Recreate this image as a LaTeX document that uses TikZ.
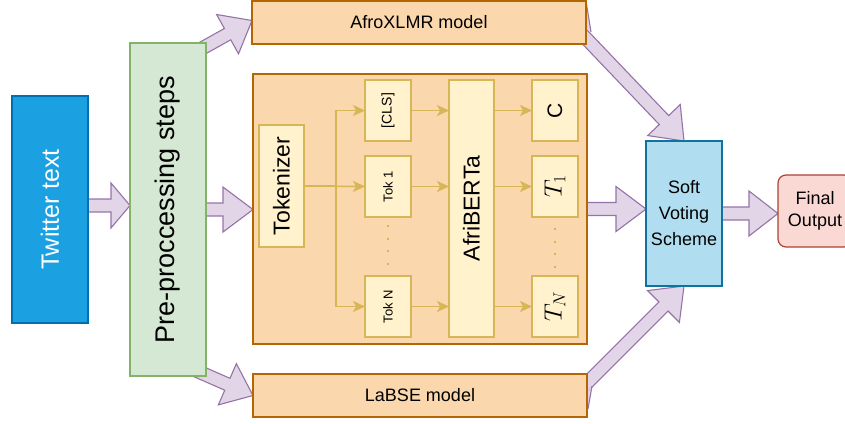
\documentclass[tikz,border=0pt]{standalone}
\usepackage{fontspec}
\setmainfont{Liberation Sans}
\usepackage{graphicx}
\usetikzlibrary{calc,arrows.meta,backgrounds}
\definecolor{twfill}{HTML}{1BA1E2}
\definecolor{twline}{HTML}{006EAF}
\definecolor{prefill}{HTML}{D5E8D4}
\definecolor{preline}{HTML}{82B366}
\definecolor{ofill}{HTML}{FAD7AC}
\definecolor{oline}{HTML}{B46504}
\definecolor{yfill}{HTML}{FFF2CC}
\definecolor{yline}{HTML}{D6B656}
\definecolor{softfill}{HTML}{B1DDF0}
\definecolor{softline}{HTML}{10739E}
\definecolor{finfill}{HTML}{FAD9D5}
\definecolor{finline}{HTML}{AE4132}
\definecolor{afill}{HTML}{E1D5E7}
\definecolor{aline}{HTML}{9673A6}
\newcommand\fs[2]{\fontsize{#1}{#2}\selectfont}
\newcommand\fatarrow[3]{%
  \coordinate (fa-s) at #1;
  \coordinate (fa-e) at #2;
  \coordinate (fa-b) at ($(fa-e)!#3!(fa-s)$);
  \draw[bigarrow] ($(fa-s)!6.5pt!90:(fa-e)$) -- ($(fa-b)!6.5pt!90:(fa-e)$)
    -- ($(fa-b)!22.5pt!90:(fa-e)$) -- (fa-e) -- ($(fa-b)!22.5pt!-90:(fa-e)$)
    -- ($(fa-b)!6.5pt!-90:(fa-e)$) -- ($(fa-s)!6.5pt!-90:(fa-e)$) -- cycle;}
\tikzset{
  box/.style={draw, line width=1.2pt, inner sep=0pt, outer sep=0pt, align=center},
  obox/.style={box, fill=ofill, draw=oline, line width=1.5pt, minimum width=334pt},
  ybox/.style={box, fill=yfill, draw=yline},
  bigarrow/.style={fill=afill, draw=aline, line width=1.1pt, line join=miter},
  thinarrow/.style={draw=yline, line width=1.4pt, -{Stealth[length=12pt,width=11pt,inset=3pt]}},
  dotline/.style={draw=yline, line width=2.2pt, dash pattern=on 2pt off 10.5pt}
}
\begin{document}
\begin{tikzpicture}[x=1pt,y=-1pt]
\useasboundingbox (0,0) rectangle (845,423);
% main boxes
\node[box, fill=twfill, draw=twline, minimum width=76pt, minimum height=227pt, text=white, font=\fs{25}{25}] (tw) at (50,209.5) {\rotatebox{90}{Twitter text}};
\node[box, fill=prefill, draw=preline, minimum width=76pt, minimum height=333pt, font=\fs{27}{27}] (pre) at (168,209.5) {\rotatebox{90}{Pre-proccessing steps}};
\node[obox, minimum height=43pt, font=\fs{18}{18}] (afro) at (419,22.5) {AfroXLMR model};
\node[obox, minimum height=270pt] (big) at (420,209) {};
\node[obox, minimum height=43pt, font=\fs{18}{18}] (labse) at (420,395.5) {LaBSE model};
% inner boxes
\node[ybox, minimum width=45pt, minimum height=122pt, font=\fs{23}{23}] (tokz) at (281.5,186) {\rotatebox{90}{Tokenizer}};
\node[ybox, minimum width=46pt, minimum height=61pt, font=\fs{14}{14}] (cls) at (388,110.5) {\rotatebox{90}{[CLS]}};
\node[ybox, minimum width=46pt, minimum height=61pt, font=\fs{13}{13}] (tok1) at (388,186.5) {\rotatebox{90}{Tok 1}};
\node[ybox, minimum width=46pt, minimum height=61pt, font=\fs{13}{13}] (tokn) at (388,306.5) {\rotatebox{90}{Tok N}};
\node[ybox, minimum width=45pt, minimum height=257pt, font=\fs{23}{23}] (afri) at (471.5,208.5) {\rotatebox{90}{AfriBERTa}};
\node[ybox, minimum width=46pt, minimum height=61pt, font=\fs{21}{21}] (cc) at (555,110.5) {\rotatebox{90}{C}};
\node[ybox, minimum width=46pt, minimum height=61pt, font=\fs{24}{24}] (t1) at (555,186.5) {\rotatebox{90}{$T_1$}};
\node[ybox, minimum width=46pt, minimum height=61pt, font=\fs{24}{24}] (tn) at (555,306.5) {\rotatebox{90}{$T_N$}};
% right boxes
\node[box, fill=softfill, draw=softline, minimum width=76pt, minimum height=145pt, font=\fs{18}{26}] (soft) at (684,213.5) {Soft\\Voting\\Scheme};
\node[box, fill=finfill, draw=finline, rounded corners=8pt, minimum width=74pt, minimum height=72pt, font=\fs{18}{22}] (final) at (815,211) {Final\\Output};
% thin connectors
\draw[thinarrow] (tokz.east) -- (tok1.west);
\draw[thinarrow] (tokz.east) -- ++(32,0) |- (cls.west);
\draw[thinarrow] (tokz.east) -- ++(32,0) |- (tokn.west);
\draw[thinarrow] (cls.east) -- (afri.west |- cls.east);
\draw[thinarrow] (tok1.east) -- (afri.west |- tok1.east);
\draw[thinarrow] (tokn.east) -- (afri.west |- tokn.east);
\draw[thinarrow] (afri.east |- cc.west) -- (cc.west);
\draw[thinarrow] (afri.east |- t1.west) -- (t1.west);
\draw[thinarrow] (afri.east |- tn.west) -- (tn.west);
\draw[dotline] ($(tok1.south)+(0,8)$) -- ($(tokn.north)+(0,-11)$);
\draw[dotline] ($(t1.south)+(0,11)$) -- ($(tn.north)+(0,-7)$);
% big arrows
\begin{scope}[on background layer]
\fatarrow{($(tw.east)+(0,-4)$)}{($(pre.west)+(0,-4)$)}{19pt}
\fatarrow{(pre.east)}{(big.west |- pre.east)}{30pt}
\fatarrow{(big.east)}{(soft.west |- big.east)}{30pt}
\fatarrow{(soft.east)}{(final.west |- soft.east)}{29pt}
\fatarrow{($(pre.north east)+(-14,11)$)}{($(afro.west)+(0,-2)$)}{28pt}
\fatarrow{($(pre.south east)+(-18,-9)$)}{(labse.west)}{28pt}
\fatarrow{($(afro.east)+(-6.5,9)$)}{(soft.north)}{29pt}
\fatarrow{($(labse.east)+(-10,-2.5)$)}{(soft.south)}{29pt}
\fill[afill] (afro.north east) -- ($(afro.north east)+(5,31)$) -- ($(afro.north east)+(0,28)$) -- cycle;
\draw[draw=aline, line width=1.1pt] (afro.north east) -- ($(afro.north east)+(5,31)$);
\fill[afill] ($(labse.north east)+(1,35)$) -- ($(labse.north east)+(5,12)$) -- ($(labse.north east)+(0,18)$) -- cycle;
\draw[draw=aline, line width=1.1pt] ($(labse.north east)+(1,35)$) -- ($(labse.north east)+(5,12)$);
\end{scope}
\end{tikzpicture}
\end{document}
